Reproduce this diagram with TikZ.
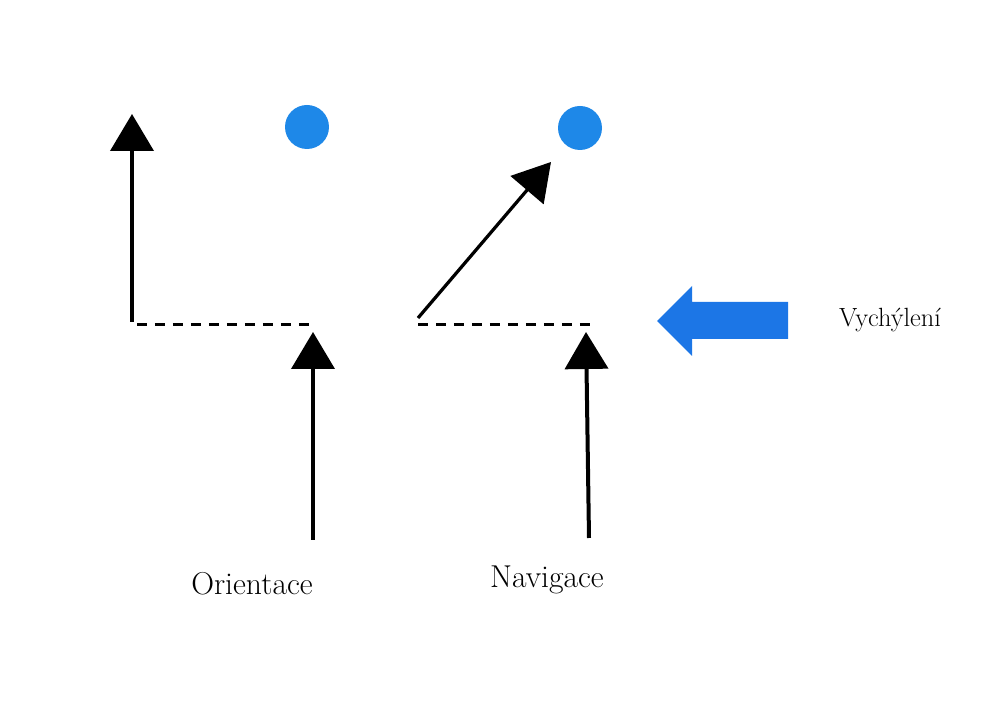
\documentclass[tikz,border=0pt]{standalone}
\usepackage{fontspec}
\usetikzlibrary{arrows.meta}
\definecolor{dotblue}{RGB}{30,136,232}
\definecolor{arrblue}{RGB}{28,118,230}
\tikzset{
  blkarrow/.style={line width=0.08cm,-{Triangle[width=0.86cm,length=0.74cm]}},
  dashline/.style={line width=0.06cm,dash pattern=on 0.2cm off 0.16cm},
  dot/.style={circle,fill=dotblue,minimum size=0.88cm,inner sep=0pt},
  lbl/.style={font=\fontsize{18}{20}\selectfont,anchor=base,inner sep=0pt},
  smlbl/.style={font=\fontsize{15}{17}\selectfont,anchor=base,inner sep=0pt}
}
\begin{document}
\begin{tikzpicture}[x=0.02cm,y=-0.02cm]
\useasboundingbox[fill=white] (0,0) rectangle (981,715);
% coordinates
\coordinate (l0) at (132,322);
\coordinate (l1) at (132,114);
\coordinate (d1a) at (137,325);
\coordinate (d1b) at (315,325);
\coordinate (o0) at (313,540);
\coordinate (o1) at (313,332);
\coordinate (g0) at (418,318);
\coordinate (g1) at (551,162);
\coordinate (d2a) at (418,325);
\coordinate (d2b) at (594,325);
\coordinate (n0) at (589,538);
\coordinate (n1) at (586,332);
\node[dot] (b1) at (307,127) {};
\node[dot] (b2) at (580,128) {};
% arrows
\draw[blkarrow] (l0) -- (l1);
\draw[dashline] (d1a) -- (d1b);
\draw[blkarrow] (o0) -- (o1);
\draw[blkarrow,line width=0.065cm] (g0) -- (g1);
\draw[dashline] (d2a) -- (d2b);
\draw[blkarrow] (n0) -- (n1);
% big blue arrow
\fill[arrblue] (657,321) -- (692,286) -- (692,302) -- (788,302) -- (788,339) -- (692,339) -- (692,356) -- cycle;
% labels
\node[lbl] (ori) at (252,595) {Orientace};
\node[lbl] (nav) at (547,588) {Navigace};
\node[smlbl] (vy) at (890,327) {Vychýlení};
\end{tikzpicture}
\end{document}
